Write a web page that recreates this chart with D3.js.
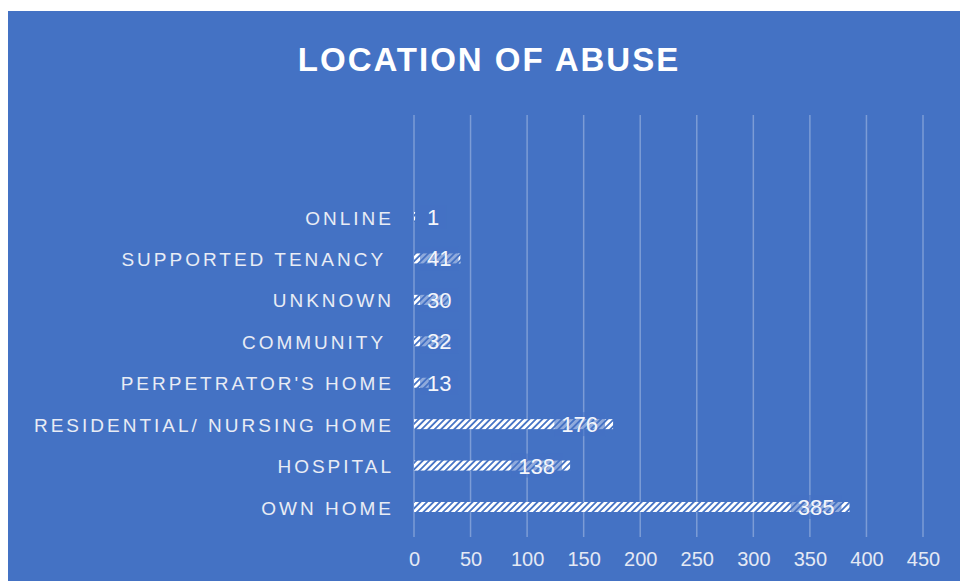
<!DOCTYPE html>
<html>
<head>
<meta charset="utf-8">
<script src="https://cdn.jsdelivr.net/npm/d3@7"></script>
<style>
  body { margin: 0; background: #fff; }
  svg text { font-family: "Liberation Sans", Arial, sans-serif; }
</style>
</head>
<body>
<div id="chart"></div>
<script>
// categories from top to bottom (trailing spaces are in the original labels)
const locations = ["ONLINE", "SUPPORTED TENANCY ", "UNKNOWN", "COMMUNITY ", "PERPETRATOR'S HOME",
    "RESIDENTIAL/ NURSING HOME", "HOSPITAL", "OWN HOME"];
const counts = [1, 41, 30, 32, 13, 176, 138, 385];
const xTicks = [0, 50, 100, 150, 200, 250, 300, 350, 400, 450];

let width = 960, height = 581;
let blue = "#4472C4";

let svg = d3.select("#chart")
    .append("svg")
    .attr("width", width)
    .attr("height", height);

// striped fill for the bars
let pat = svg.append("defs").append("pattern")
    .attr("id", "stripes")
    .attr("patternUnits", "userSpaceOnUse")
    .attr("width", 4.6)
    .attr("height", 4.6)
    .attr("patternTransform", "rotate(45)");
pat.append("rect").attr("width", 4.6).attr("height", 4.6).attr("fill", blue);
pat.append("rect").attr("width", 2.8).attr("height", 4.6).attr("fill", "#fff");

svg.append("rect")
    .attr("x", 8).attr("y", 11)
    .attr("width", width - 8).attr("height", height - 11)
    .attr("fill", blue);

svg.append("text")
    .attr("x", 489)
    .attr("y", 71)
    .attr("text-anchor", "middle")
    .style("font-size", "33px")
    .style("font-weight", "bold")
    .style("letter-spacing", "2px")
    .attr("fill", "#fff")
    .text("LOCATION OF ABUSE");

let x = d3.scaleLinear().domain([0, 450]).range([414, 923]);
let y = d3.scalePoint().domain(locations).range([217, 507]);

// gridlines
svg.append("g")
    .selectAll("line")
    .data(xTicks)
    .enter()
    .append("line")
    .attr("x1", d => x(d)).attr("x2", d => x(d))
    .attr("y1", 115).attr("y2", 537)
    .attr("stroke", "#fff")
    .attr("stroke-opacity", 0.3)
    .attr("stroke-width", 1.5);

// x axis labels
let xAxis = svg.append("g")
    .attr("transform", "translate(0,566)")
    .call(d3.axisBottom(x).tickValues(xTicks).tickSize(0).tickPadding(0));
xAxis.select(".domain").remove();
xAxis.selectAll("text")
    .attr("dy", 0)
    .attr("fill", "#e4e9f4")
    .style("font-size", "20px")
    .style("font-family", "'Liberation Sans', Arial, sans-serif");

// category labels
let yAxis = svg.append("g")
    .attr("transform", "translate(394,0)")
    .call(d3.axisLeft(y).tickSize(0).tickPadding(0));
yAxis.select(".domain").remove();
yAxis.selectAll("text")
    .attr("dy", 0)
    .attr("y", 7)
    .attr("fill", "#e8ecf5")
    .style("font-size", "19px")
    .style("letter-spacing", "3px")
    .style("white-space", "pre")
    .style("font-family", "'Liberation Sans', Arial, sans-serif");

// bars
let data = locations.map((d, i) => ({ name: d, value: counts[i] }));
let barH = 10;

svg.append("g")
    .selectAll("rect")
    .data(data)
    .enter()
    .append("rect")
    .attr("x", x(0))
    .attr("y", d => y(d.name) - barH / 2)
    .attr("width", d => x(d.value) - x(0))
    .attr("height", barH)
    .attr("fill", "url(#stripes)");

// value labels with a see-through box behind them
let labels = svg.append("g")
    .selectAll("g")
    .data(data)
    .enter()
    .append("g");

labels.append("text")
    .attr("y", d => y(d.name) + 8)
    .attr("text-anchor", "middle")
    .attr("fill", "#f4f6fb")
    .style("font-size", "22px")
    .text(d => d.value);

labels.each(function (d) {
    let g = d3.select(this);
    let t = g.select("text");
    let tw = t.node().getComputedTextLength();
    let boxW = tw + 14;
    let left = Math.max(x(d.value) - 8 - boxW, x(0) + 6);
    t.attr("x", left + boxW / 2);
    g.insert("rect", "text")
        .attr("x", left)
        .attr("y", y(d.name) - 12)
        .attr("width", boxW)
        .attr("height", 24)
        .attr("fill", blue)
        .attr("fill-opacity", 0.6);
});
</script>
</body>
</html>
